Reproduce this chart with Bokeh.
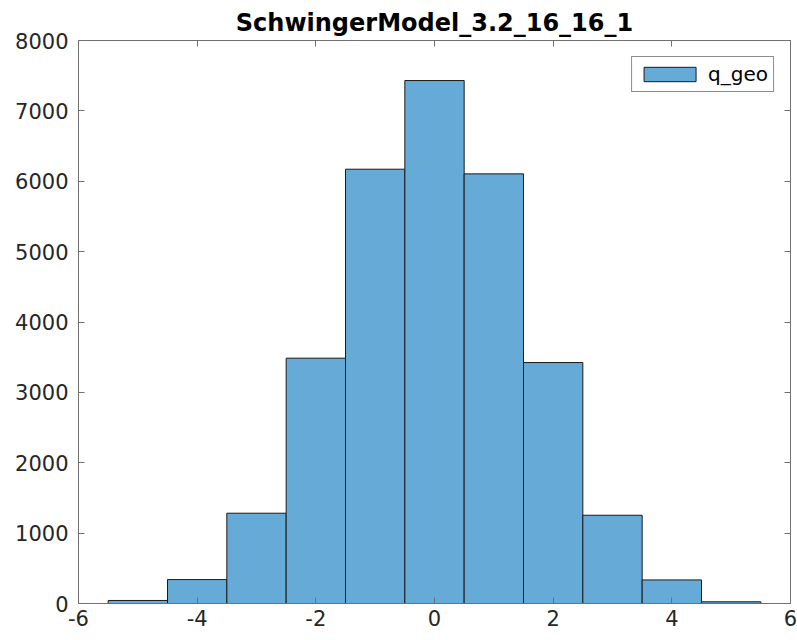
from bokeh.plotting import figure
from bokeh.models import LinearAxis, FixedTicker, Range1d
from bokeh.embed import file_html
from bokeh.resources import INLINE

# Histogram of the geometric topological charge
bin_centers = [-5, -4, -3, -2, -1, 0, 1, 2, 3, 4, 5]
counts = [43, 340, 1283, 3486, 6171, 7431, 6105, 3424, 1254, 335, 24]
bin_width = 1.0

x_ticks = [-6, -4, -2, 0, 2, 4, 6]
y_ticks = [0, 1000, 2000, 3000, 4000, 5000, 6000, 7000, 8000]

FONT = "DejaVu Sans"
AXIS_COLOR = "#707070"
TEXT_COLOR = "#262626"

p = figure(width=797, height=640, output_backend="svg", toolbar_location=None,
           x_range=Range1d(-6, 6), y_range=Range1d(0, 8000),
           min_border_left=78, min_border_right=7, min_border_top=40,
           min_border_bottom=37, title="SchwingerModel_3.2_16_16_1")

p.title.text_font = FONT
p.title.text_font_size = "24px"
p.title.text_font_style = "bold"
p.title.align = "center"
p.title.text_color = "black"
p.title.standoff = 8

p.vbar(x=bin_centers, top=counts, width=bin_width, bottom=0,
       fill_color="#66aad7", line_color="#1a1a1a", line_width=1,
       legend_label="q_geo")

p.grid.visible = False
p.outline_line_color = None


def style_axis(ax, ticks, show_labels, standoff):
    ax.ticker = FixedTicker(ticks=ticks)
    ax.axis_line_color = AXIS_COLOR
    ax.axis_line_width = 1
    ax.major_tick_line_color = AXIS_COLOR
    ax.major_tick_in = 6
    ax.major_tick_out = 0
    ax.minor_tick_line_color = None
    ax.major_label_text_font = FONT
    ax.major_label_text_color = TEXT_COLOR
    ax.major_label_standoff = standoff
    ax.major_label_text_font_size = "21px"
    if show_labels:
        # plain hyphen for negative numbers
        ax.major_label_overrides = {t: str(t) for t in ticks}
    else:
        ax.major_label_overrides = {t: "" for t in ticks}


style_axis(p.xaxis[0], x_ticks, True, 6)
style_axis(p.yaxis[0], y_ticks, True, 10)

top_axis = LinearAxis()
style_axis(top_axis, x_ticks, False, 0)
p.add_layout(top_axis, "above")

right_axis = LinearAxis()
style_axis(right_axis, y_ticks, False, 0)
p.add_layout(right_axis, "right")

leg = p.legend[0]
leg.location = "top_right"
leg.margin = 16
leg.padding = 5
leg.spacing = 0
leg.glyph_width = 65
leg.glyph_height = 18
leg.label_standoff = 6
leg.label_text_font = FONT
leg.label_text_font_size = "20px"
leg.label_text_color = "black"
leg.border_line_color = "#1a1a1a"
leg.border_line_width = 1
leg.background_fill_color = "white"
leg.background_fill_alpha = 1

open("out.html", "w").write(file_html(p, INLINE))
